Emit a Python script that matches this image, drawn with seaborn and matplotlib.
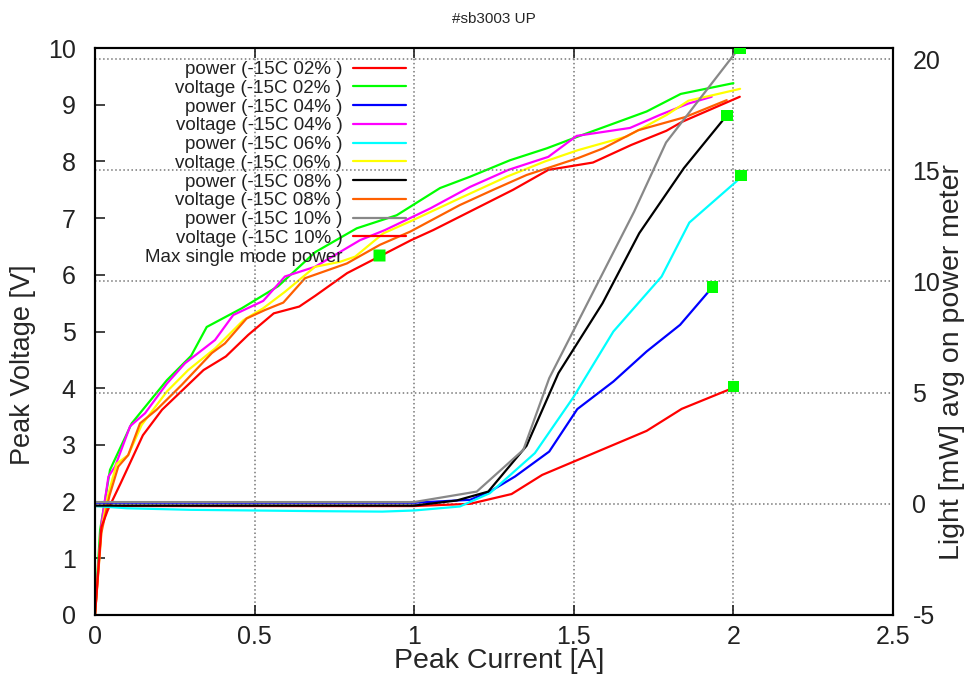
import numpy as np
import pandas as pd
import matplotlib
matplotlib.use("Agg")
import matplotlib.pyplot as plt
from matplotlib.lines import Line2D
from matplotlib.ticker import FuncFormatter
import seaborn as sns

# dati: corrente [A] -> tensione [V] (asse sinistro)
v02_x = [0, 0.016, 0.047, 0.115, 0.225, 0.301, 0.35, 0.46, 0.574, 0.69, 0.82, 0.945, 1.081, 1.175, 1.3, 1.415, 1.514, 1.728, 1.835, 2.0]
v02_y = [0, 1.5, 2.56, 3.38, 4.14, 4.57, 5.08, 5.41, 5.8, 6.4, 6.82, 7.05, 7.53, 7.73, 8.02, 8.23, 8.44, 8.88, 9.19, 9.38]

v04_x = [0, 0.02, 0.042, 0.063, 0.11, 0.157, 0.225, 0.282, 0.376, 0.433, 0.527, 0.595, 0.689, 0.83, 0.909, 1.05, 1.175, 1.295, 1.42, 1.509, 1.676, 1.77, 1.859, 1.932]
v04_y = [0, 1.6, 2.44, 2.62, 3.33, 3.56, 4.08, 4.44, 4.85, 5.29, 5.54, 5.97, 6.14, 6.61, 6.79, 7.17, 7.55, 7.85, 8.08, 8.45, 8.59, 8.82, 9.02, 9.14]

v06_x = [0, 0.02, 0.04, 0.068, 0.104, 0.146, 0.225, 0.292, 0.376, 0.465, 0.527, 0.595, 0.689, 0.768, 0.815, 0.903, 0.987, 1.143, 1.29, 1.41, 1.514, 1.666, 1.791, 1.859, 1.937, 2.021]
v06_y = [0, 1.5, 2.1, 2.67, 2.82, 3.35, 3.94, 4.32, 4.7, 5.2, 5.41, 5.7, 6.14, 6.23, 6.32, 6.73, 6.94, 7.35, 7.73, 8.0, 8.2, 8.44, 8.82, 9.07, 9.17, 9.28]

v08_x = [0, 0.02, 0.045, 0.073, 0.104, 0.141, 0.193, 0.272, 0.366, 0.407, 0.475, 0.533, 0.59, 0.658, 0.789, 0.893, 0.987, 1.143, 1.248, 1.352, 1.514, 1.592, 1.702, 1.848, 1.979]
v08_y = [0, 1.45, 2.1, 2.62, 2.82, 3.38, 3.62, 4.06, 4.62, 4.79, 5.23, 5.38, 5.51, 5.94, 6.2, 6.53, 6.76, 7.23, 7.5, 7.76, 8.06, 8.23, 8.55, 8.78, 9.08]

v10_x = [0, 0.02, 0.04, 0.08, 0.15, 0.21, 0.34, 0.41, 0.48, 0.56, 0.64, 0.69, 0.79, 0.99, 1.06, 1.31, 1.42, 1.56, 1.68, 1.79, 1.84, 2.02]
v10_y = [0, 1.55, 1.85, 2.32, 3.17, 3.62, 4.32, 4.56, 4.94, 5.32, 5.44, 5.63, 6.03, 6.61, 6.79, 7.5, 7.85, 7.98, 8.29, 8.54, 8.7, 9.14]

# corrente [A] -> potenza luce [mW] (asse destro)
p02_x = [0, 0.3, 0.6, 0.9, 1.0, 1.175, 1.305, 1.401, 1.728, 1.838, 1.99]
p02_y = [-0.1, -0.1, -0.1, -0.1, -0.1, 0.0, 0.44, 1.3, 3.28, 4.27, 5.16]

p04_x = [0, 0.5, 1.0, 1.175, 1.237, 1.316, 1.423, 1.511, 1.624, 1.728, 1.833, 1.925]
p04_y = [0.05, 0.05, 0.05, 0.18, 0.55, 1.23, 2.35, 4.26, 5.5, 6.85, 8.05, 9.59]

p06_x = [0, 0.1, 0.3, 0.7, 0.9, 1.0, 1.143, 1.237, 1.378, 1.499, 1.624, 1.775, 1.862, 2.015]
p06_y = [-0.1, -0.2, -0.27, -0.33, -0.35, -0.3, -0.12, 0.48, 2.28, 4.8, 7.75, 10.22, 12.65, 14.57]

p08_x = [0, 0.5, 1.0, 1.133, 1.232, 1.352, 1.452, 1.59, 1.705, 1.845, 1.968]
p08_y = [-0.08, -0.08, -0.08, 0.15, 0.55, 2.61, 5.88, 9.02, 12.17, 15.1, 17.27]

p10_x = [0, 0.5, 1.0, 1.196, 1.342, 1.423, 1.689, 1.789, 2.005]
p10_y = [0.08, 0.08, 0.08, 0.55, 2.43, 5.65, 13.14, 16.25, 20.26]

# massima potenza single mode
max_x = [2.0, 1.934, 2.024, 1.979, 2.02]
max_y = [5.27, 9.74, 14.76, 17.46, 20.49]

percentuali = ["02%", "04%", "06%", "08%", "10%"]
colori_p = ["#ff0000", "#0000ff", "#00ffff", "#000000", "#888888"]
colori_v = ["#00ff00", "#ff00ff", "#ffff00", "#ff6000", "#ff0000"]

# tabelle long-form per seaborn
nomi_v = [f"voltage (-15C {p} )" for p in percentuali]
nomi_p = [f"power (-15C {p} )" for p in percentuali]
tensione = pd.concat([
    pd.DataFrame({"corrente": x, "valore": y, "serie": n})
    for x, y, n in zip([v02_x, v04_x, v06_x, v08_x, v10_x],
                       [v02_y, v04_y, v06_y, v08_y, v10_y], nomi_v)
])
potenza = pd.concat([
    pd.DataFrame({"corrente": x, "valore": y, "serie": n})
    for x, y, n in zip([p02_x, p04_x, p06_x, p08_x, p10_x],
                       [p02_y, p04_y, p06_y, p08_y, p10_y], nomi_p)
])

sns.set_theme(style="ticks")
plt.rcParams["font.family"] = ["Liberation Sans", "DejaVu Sans"]
plt.rcParams["axes.unicode_minus"] = False

fig = plt.figure(figsize=(9.73, 6.77), dpi=100)
ax = fig.add_axes([95 / 973, 62 / 677, 798 / 973, 567 / 677])
ax2 = ax.twinx()

sns.lineplot(data=tensione, x="corrente", y="valore", hue="serie",
             hue_order=nomi_v, palette=colori_v, sort=False, estimator=None,
             linewidth=1.6, legend=False, ax=ax)
sns.lineplot(data=potenza, x="corrente", y="valore", hue="serie",
             hue_order=nomi_p, palette=colori_p, sort=False, estimator=None,
             linewidth=1.6, legend=False, ax=ax2)
sns.scatterplot(x=max_x, y=max_y, marker="s", color="#00ff00", s=70,
                edgecolor="none", zorder=5, ax=ax2)

# assi
ax.set_xlim(0, 2.5)
ax.set_ylim(0, 10)
ax2.set_ylim(-5, 20.5)
ax.set_xticks(np.arange(0, 2.51, 0.5))
ax.set_yticks(range(0, 11))
ax2.set_yticks(range(-5, 21, 5))
ax.xaxis.set_major_formatter(FuncFormatter(lambda v, p: f"{v:g}"))

# etichette: gnuplot le mette un po' più in basso del centro
ax.set_xlabel("Peak Current [A]", fontsize=20.5)
ax.xaxis.set_label_coords(0.506, -0.058)
ax.set_ylabel("Peak Voltage [V]", fontsize=19.5)
ax.yaxis.set_label_coords(-0.074, 0.441)
ax2.set_ylabel("Light [mW] avg on power meter", fontsize=20.5)
ax2.yaxis.set_label_coords(1.058, 0.446)
ax.set_title("#sb3003 UP", fontsize=11, pad=18)

ax.tick_params(axis="x", direction="in", top=True, length=7, width=1.2,
               labelsize=18, pad=7, colors="#222222")
ax.tick_params(axis="y", direction="in", right=False, length=7, width=1.2,
               labelsize=18, pad=14, colors="#222222")
ax2.tick_params(axis="y", direction="in", length=0, labelsize=18, pad=14,
                colors="#222222")

# griglia tratteggiata su x e su y2
ax.grid(axis="x", linestyle=":", color="#777777", linewidth=1.1)
ax2.grid(axis="y", linestyle=":", color="#777777", linewidth=1.1)
ax.set_axisbelow(True)
for s in list(ax.spines.values()) + list(ax2.spines.values()):
    s.set_linewidth(1.5)
    s.set_color("black")

# legenda in stile gnuplot: testo a destra allineato, poi il campione
maniglie = []
etichette = []
for i in range(5):
    maniglie.append(Line2D([], [], color=colori_p[i], linewidth=1.6))
    etichette.append(nomi_p[i])
    maniglie.append(Line2D([], [], color=colori_v[i], linewidth=1.6))
    etichette.append(nomi_v[i])
maniglie.append(Line2D([], [], linestyle="none", marker="s", markersize=8,
                       markerfacecolor="#00ff00", markeredgecolor="none"))
etichette.append("Max single mode power")

leg = ax.legend(maniglie, etichette, loc="upper right", markerfirst=False,
                frameon=False, fontsize=13.5, handlelength=2.85,
                handletextpad=0.55, labelspacing=0.087, borderpad=0,
                borderaxespad=0, bbox_to_anchor=(406 / 973, 1 - 61 / 677),
                bbox_transform=fig.transFigure)
for t in leg.get_texts():
    t.set_color("#222222")

plt.savefig("out.png", dpi=100)
plt.close()
